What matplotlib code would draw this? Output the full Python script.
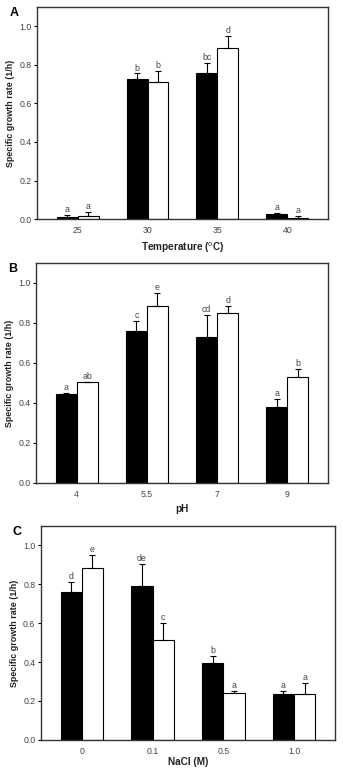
import numpy as np
import matplotlib.pyplot as plt

plt.rcParams['font.family'] = ['Liberation Sans', 'DejaVu Sans']

# panel A: temperature
temp_labels = ['25', '30', '35', '40']
temp_black = [0.012, 0.725, 0.760, 0.025]
temp_black_err = [0.010, 0.030, 0.050, 0.008]
temp_white = [0.018, 0.710, 0.885, 0.008]
temp_white_err = [0.020, 0.060, 0.065, 0.006]
temp_black_let = ['a', 'b', 'bc', 'a']
temp_white_let = ['a', 'b', 'd', 'a']

# panel B: pH
ph_labels = ['4', '5.5', '7', '9']
ph_black = [0.445, 0.760, 0.730, 0.380]
ph_black_err = [0.005, 0.050, 0.110, 0.040]
ph_white = [0.503, 0.885, 0.852, 0.530]
ph_white_err = [0.003, 0.065, 0.032, 0.042]
ph_black_let = ['a', 'c', 'cd', 'a']
ph_white_let = ['ab', 'e', 'd', 'b']

# panel C: NaCl
nacl_labels = ['0', '0.1', '0.5', '1.0']
nacl_black = [0.762, 0.790, 0.393, 0.233]
nacl_black_err = [0.050, 0.115, 0.040, 0.018]
nacl_white = [0.885, 0.515, 0.240, 0.233]
nacl_white_err = [0.065, 0.085, 0.010, 0.058]
nacl_black_let = ['d', 'de', 'b', 'a']
nacl_white_let = ['e', 'c', 'a', 'a']

fig = plt.figure(figsize=(3.43, 7.69), dpi=100)

panels = [
    ('A', [0.108, 0.715, 0.848, 0.276], temp_labels, temp_black, temp_black_err,
     temp_white, temp_white_err, temp_black_let, temp_white_let, r'Temperature ($^{\rm o}$C)', 4),
    ('B', [0.105, 0.372, 0.851, 0.286], ph_labels, ph_black, ph_black_err,
     ph_white, ph_white_err, ph_black_let, ph_white_let, 'pH', 4),
    ('C', [0.119, 0.038, 0.858, 0.278], nacl_labels, nacl_black, nacl_black_err,
     nacl_white, nacl_white_err, nacl_black_let, nacl_white_let, 'NaCl (M)', 1),
]

w = 0.3
for letter, pos, labels, b, be, wh, we, bl, wl, xlab, lpad in panels:
    ax = fig.add_axes(pos)
    x = np.arange(len(labels))
    ax.bar(x - w/2, b, w, color='black', edgecolor='black', linewidth=0.8,
           yerr=[np.zeros(len(be)), be], error_kw=dict(ecolor='black', elinewidth=0.8, capsize=2.5, capthick=0.8))
    ax.bar(x + w/2, wh, w, color='white', edgecolor='black', linewidth=0.8,
           yerr=[np.zeros(len(we)), we], error_kw=dict(ecolor='black', elinewidth=0.8, capsize=2.5, capthick=0.8))
    for i in range(len(labels)):
        ax.text(x[i] - w/2, b[i] + be[i] + 0.005, bl[i], ha='center', va='bottom',
                fontsize=6.3, color='#444444')
        ax.text(x[i] + w/2, wh[i] + we[i] + 0.005, wl[i], ha='center', va='bottom',
                fontsize=6.3, color='#444444')
    ax.set_xlim(-0.58, 3.58)
    ax.set_ylim(0, 1.1)
    ax.set_xticks(x)
    ax.set_xticklabels(labels)
    ax.set_yticks([0, 0.2, 0.4, 0.6, 0.8, 1.0])
    ax.set_yticklabels(['0.0', '0.2', '0.4', '0.6', '0.8', '1.0'])
    ax.tick_params(axis='x', length=0, labelsize=6.3, labelcolor='#444444', pad=5)
    ax.tick_params(axis='y', length=2, width=0.8, labelsize=6.3, labelcolor='#444444', pad=2)
    for s in ax.spines.values():
        s.set_linewidth(1.0)
        s.set_color('#333333')
    ax.set_ylabel('Specific growth rate (1/h)', fontsize=6.4, fontweight='bold', color='#222222', labelpad=3)
    ax.set_xlabel(xlab, fontsize=7.2, fontweight='bold', color='#222222', labelpad=lpad)
    ax.text(-0.095, 1.0, letter, transform=ax.transAxes, fontsize=9, fontweight='bold',
            ha='left', va='top')

fig.savefig('out.png', dpi=100)
